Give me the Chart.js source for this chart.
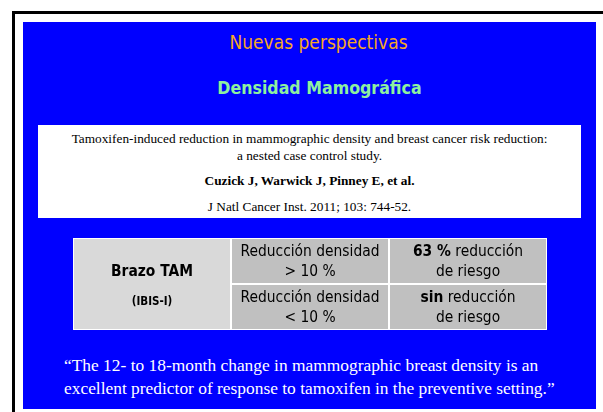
<!DOCTYPE html>
<html>
<head>
<meta charset="utf-8">
<script src="https://cdn.jsdelivr.net/npm/chart.js@4/dist/chart.umd.min.js"></script>
<style>
  html, body { margin: 0; overflow: hidden; }
  body { width: 603px; height: 412px; background: #fff; position: relative; }
  .frame { position: absolute; left: 12px; top: 11px; width: 588px; height: 398px; border-left: 3px solid #000; border-top: 3px solid #000; }
  .slide { position: absolute; left: 23px; top: 22px; width: 573px; height: 387px; background: #0000ff; }
  .t1 { position: absolute; left: 32px; width: 573px; top: 31px; text-align: center; font: 19px "DejaVu Sans Condensed", "DejaVu Sans", sans-serif; color: #f5a626; }
  .t2 { position: absolute; left: 33px; width: 573px; top: 78px; text-align: center; font: bold 17.6px "DejaVu Sans Condensed", "DejaVu Sans", sans-serif; color: #8ef0a0; }
  .ref { position: absolute; left: 38px; top: 125px; width: 543px; height: 93px; background: #fff; font-family: "Liberation Serif", serif; color: #000; text-align: center; }
  .ref div { position: absolute; left: 0; width: 100%; }
  .quote { position: absolute; left: 64px; top: 354px; font: 17.4px/23px "Liberation Serif", serif; color: #fff; white-space: nowrap; }
  #table { position: absolute; left: 73px; top: 238px; }
</style>
</head>
<body>
<div class="frame"></div>
<div class="slide"></div>
<div class="t1">Nuevas perspectivas</div>
<div class="t2">Densidad Mamográfica</div>
<div class="ref">
  <div style="top:5px;font-size:13.3px;line-height:17px">Tamoxifen-induced reduction in mammographic density and breast cancer risk reduction:<br>a nested case control study.</div>
  <div style="top:48px;font-size:13.3px;font-weight:bold">Cuzick J, Warwick J, Pinney E, et al.</div>
  <div style="top:74px;font-size:13.3px">J Natl Cancer Inst. 2011; 103: 744-52.</div>
</div>
<canvas id="table" width="474" height="92"></canvas>
<div class="quote">“The 12- to 18-month change in mammographic breast density is an<br>excellent predictor of response to tamoxifen in the preventive setting.”</div>

<script>
// table rows / columns
const rowLabels = ['> 10 %', '< 10 %'];
const columnSpans = [[0, 1], [1, 2], [2, 3]];
const armText = ['Brazo TAM', '(IBIS-I)'];
const densityLines = [['Reducción densidad', '> 10 %'], ['Reducción densidad', '< 10 %']];
const riskBold = ['63 %', 'sin'];
const riskLines = [[' reducción', 'de riesgo'], [' reducción', 'de riesgo']];

const cellColors = ['#d9d9d9', '#c0c0c0', '#c0c0c0'];
const sans = '"DejaVu Sans Condensed", "DejaVu Sans", sans-serif';

// writes the text inside the cells
const cellText = {
    id: 'cellText',
    afterDatasetsDraw(chart) {
        const ctx = chart.ctx;
        ctx.save();
        ctx.fillStyle = '#000';
        ctx.textBaseline = 'middle';
        ctx.textAlign = 'center';

        // merged first column
        const a = chart.getDatasetMeta(0).data;
        const ax = (a[0].x + a[0].base) / 2;
        const ay = (a[0].y + a[1].y) / 2;
        ctx.font = 'bold 15.4px ' + sans;
        ctx.fillText(armText[0], ax, ay - 12);
        ctx.font = 'bold 11.5px ' + sans;
        ctx.fillText(armText[1], ax, ay + 18);

        const b = chart.getDatasetMeta(1).data;
        const c = chart.getDatasetMeta(2).data;
        rowLabels.forEach((r, i) => {
            ctx.textAlign = 'center';
            ctx.font = '15.4px ' + sans;
            const bx = (b[i].x + b[i].base) / 2;
            ctx.fillText(densityLines[i][0], bx, b[i].y - 9);
            ctx.fillText(densityLines[i][1], bx, b[i].y + 11);

            const cx = (c[i].x + c[i].base) / 2;
            ctx.font = 'bold 15.4px ' + sans;
            const wb = ctx.measureText(riskBold[i]).width;
            ctx.font = '15.4px ' + sans;
            const wn = ctx.measureText(riskLines[i][0]).width;
            const x0 = cx - (wb + wn) / 2;
            ctx.textAlign = 'left';
            ctx.font = 'bold 15.4px ' + sans;
            ctx.fillText(riskBold[i], x0, c[i].y - 9);
            ctx.font = '15.4px ' + sans;
            ctx.fillText(riskLines[i][0], x0 + wb, c[i].y - 9);
            ctx.textAlign = 'center';
            ctx.fillText(riskLines[i][1], cx, c[i].y + 11);
        });
        ctx.restore();
    }
};

new Chart(document.getElementById('table'), {
    type: 'bar',
    data: {
        labels: rowLabels,
        datasets: columnSpans.map((span, col) => ({
            data: rowLabels.map(() => span),
            backgroundColor: cellColors[col],
            borderColor: '#ffffff',
            borderSkipped: false,
            grouped: false,
            categoryPercentage: 1,
            barPercentage: 1,
            inflateAmount: 0,
            // first column is one merged cell: no line between its rows
            borderWidth: col === 0
                ? (c) => c.dataIndex === 0 ? { top: 1, left: 1, right: 1, bottom: 0 } : { top: 0, left: 1, right: 1, bottom: 1 }
                : 1
        }))
    },
    options: {
        indexAxis: 'y',
        responsive: false,
        animation: false,
        layout: { padding: 0 },
        plugins: { legend: { display: false }, tooltip: { enabled: false } },
        scales: {
            x: { type: 'linear', min: 0, max: 3, display: false },
            y: { display: false }
        }
    },
    plugins: [cellText]
});
</script>
</body>
</html>
